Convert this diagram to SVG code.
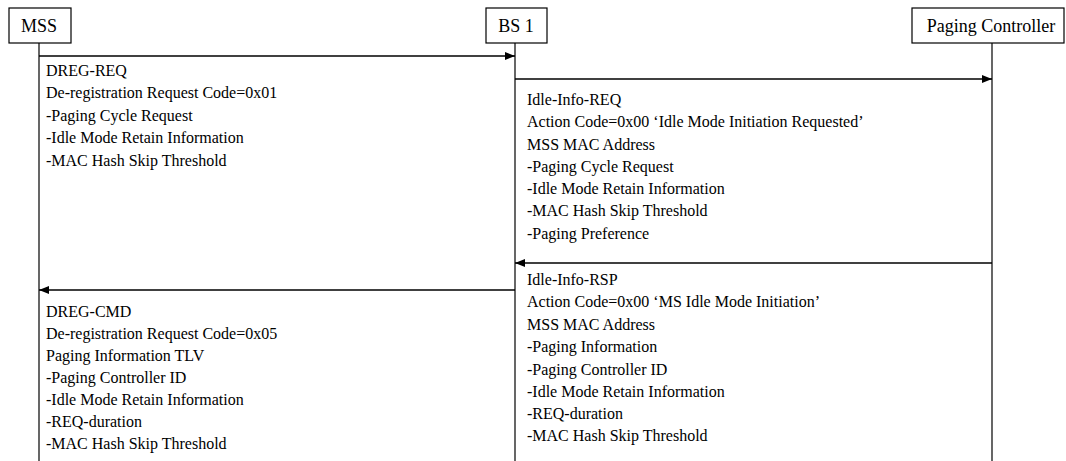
<svg xmlns="http://www.w3.org/2000/svg" width="1066" height="461" viewBox="0 0 1066 461">
<style>
.box{fill:#fff;stroke:#000;stroke-width:1.2}
.life{stroke:#000;stroke-width:1.2}
.msg{stroke:#000;stroke-width:1.5;fill:none}
text{font-family:"Liberation Serif","Times New Roman",serif;font-size:16px;fill:#000}
.c{text-anchor:middle;font-size:18px}
</style>
<defs>
<marker id="ah" viewBox="0 0 10 8" refX="10" refY="4" markerWidth="10" markerHeight="8" markerUnits="userSpaceOnUse" orient="auto">
<path d="M0,0 L10,4 L0,8 z" fill="#000"/>
</marker>
</defs>
<g id="mss">
<rect class="box" x="9" y="8" width="62" height="35"/>
<text class="c" x="39" y="31.5">MSS</text>
<line class="life" x1="39" y1="43" x2="39" y2="461"/>
</g>
<g id="bs1">
<rect class="box" x="486" y="8" width="61" height="35"/>
<text class="c" x="516" y="31.5">BS 1</text>
<line class="life" x1="515" y1="43" x2="515" y2="461"/>
</g>
<g id="pc">
<rect class="box" x="912" y="8" width="152" height="35"/>
<text class="c" x="991" y="31.5">Paging Controller</text>
<line class="life" x1="992" y1="43" x2="992" y2="461"/>
</g>
<g id="connectors">
<line class="msg" x1="39" y1="56" x2="515" y2="56" marker-end="url(#ah)"/>
<line class="msg" x1="515" y1="79" x2="992" y2="79" marker-end="url(#ah)"/>
<line class="msg" x1="992" y1="263" x2="515" y2="263" marker-end="url(#ah)"/>
<line class="msg" x1="515" y1="290" x2="39" y2="290" marker-end="url(#ah)"/>
</g>
<g id="label-dreg-req">
<text x="46" y="76">DREG-REQ</text>
<text x="46" y="98">De-registration Request Code=0x01</text>
<text x="46" y="121">-Paging Cycle Request</text>
<text x="46" y="143">-Idle Mode Retain Information</text>
<text x="46" y="166">-MAC Hash Skip Threshold</text>
</g>
<g id="label-idle-info-req">
<text x="527" y="105">Idle-Info-REQ</text>
<text x="527" y="127">Action Code=0x00 ‘Idle Mode Initiation Requested’</text>
<text x="527" y="150">MSS MAC Address</text>
<text x="527" y="172">-Paging Cycle Request</text>
<text x="527" y="194">-Idle Mode Retain Information</text>
<text x="527" y="216">-MAC Hash Skip Threshold</text>
<text x="527" y="239">-Paging Preference</text>
</g>
<g id="label-idle-info-rsp">
<text x="527" y="285">Idle-Info-RSP</text>
<text x="527" y="307">Action Code=0x00 ‘MS Idle Mode Initiation’</text>
<text x="527" y="330">MSS MAC Address</text>
<text x="527" y="352">-Paging Information</text>
<text x="527" y="375">-Paging Controller ID</text>
<text x="527" y="397">-Idle Mode Retain Information</text>
<text x="527" y="419">-REQ-duration</text>
<text x="527" y="441">-MAC Hash Skip Threshold</text>
</g>
<g id="label-dreg-cmd">
<text x="46" y="317">DREG-CMD</text>
<text x="46" y="339">De-registration Request Code=0x05</text>
<text x="46" y="361">Paging Information TLV</text>
<text x="46" y="383">-Paging Controller ID</text>
<text x="46" y="405">-Idle Mode Retain Information</text>
<text x="46" y="427">-REQ-duration</text>
<text x="46" y="449">-MAC Hash Skip Threshold</text>
</g>
</svg>
